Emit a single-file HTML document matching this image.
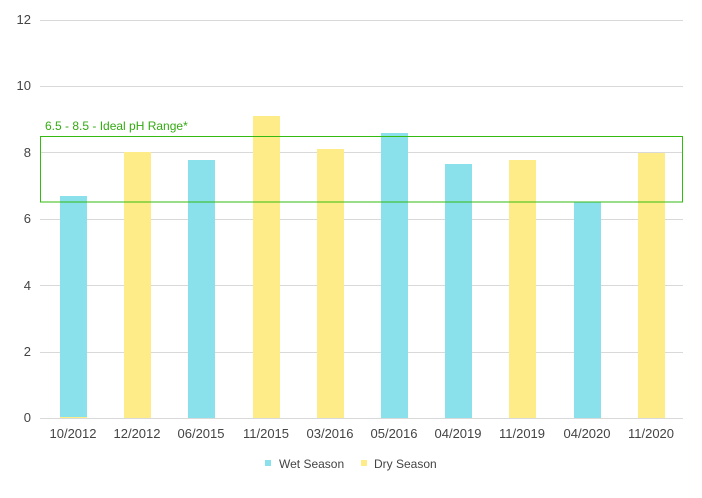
<!DOCTYPE html><html><head><style>body{margin:0;background:#fff}svg{display:block}text{font-family:"Liberation Sans","DejaVu Sans",sans-serif;font-size:13px;fill:#444}</style></head><body>
<svg width="702" height="498" xmlns="http://www.w3.org/2000/svg">
<g stroke="#d9d9d9" stroke-width="1">
<line x1="40" x2="683" y1="20.5" y2="20.5"/><line x1="40" x2="683" y1="86.5" y2="86.5"/><line x1="40" x2="683" y1="152.5" y2="152.5"/><line x1="40" x2="683" y1="219.5" y2="219.5"/><line x1="40" x2="683" y1="285.5" y2="285.5"/><line x1="40" x2="683" y1="352.5" y2="352.5"/><line x1="40" x2="683" y1="418.5" y2="418.5"/>
</g>
<g text-anchor="end"><text x="31" y="24">12</text><text x="31" y="90">10</text><text x="31" y="157">8</text><text x="31" y="223">6</text><text x="31" y="290">4</text><text x="31" y="356">2</text><text x="31" y="422">0</text></g>
<g>
<rect x="60" y="196" width="27" height="222" fill="#8ae1ec"/><rect x="60" y="417" width="27" height="1" fill="#fdec88"/>
<rect x="124" y="152" width="27" height="266" fill="#fdec88"/>
<rect x="188" y="160" width="27" height="258" fill="#8ae1ec"/>
<rect x="253" y="116" width="27" height="302" fill="#fdec88"/>
<rect x="317" y="149" width="27" height="269" fill="#fdec88"/>
<rect x="381" y="133" width="27" height="285" fill="#8ae1ec"/>
<rect x="445" y="164" width="27" height="254" fill="#8ae1ec"/>
<rect x="509" y="160" width="27" height="258" fill="#fdec88"/>
<rect x="574" y="202" width="27" height="216" fill="#8ae1ec"/>
<rect x="638" y="153" width="27" height="265" fill="#fdec88"/>
</g>
<rect x="40.5" y="136.5" width="642" height="65.5" fill="none" stroke="#33bb11" stroke-width="1"/>
<text x="45" y="130" style="fill:#33aa11;font-size:12px">6.5 - 8.5 - Ideal pH Range*</text>
<g text-anchor="middle"><text x="73" y="438">10/2012</text><text x="137" y="438">12/2012</text><text x="201" y="438">06/2015</text><text x="266" y="438">11/2015</text><text x="330" y="438">03/2016</text><text x="394" y="438">05/2016</text><text x="458" y="438">04/2019</text><text x="522" y="438">11/2019</text><text x="587" y="438">04/2020</text><text x="651" y="438">11/2020</text></g>
<rect x="265" y="460" width="6" height="6" fill="#8ae1ec"/><text x="279" y="468" style="font-size:12px">Wet Season</text>
<rect x="361" y="460" width="6" height="6" fill="#fdec88"/><text x="374" y="468" style="font-size:12px">Dry Season</text>
</svg></body></html>
